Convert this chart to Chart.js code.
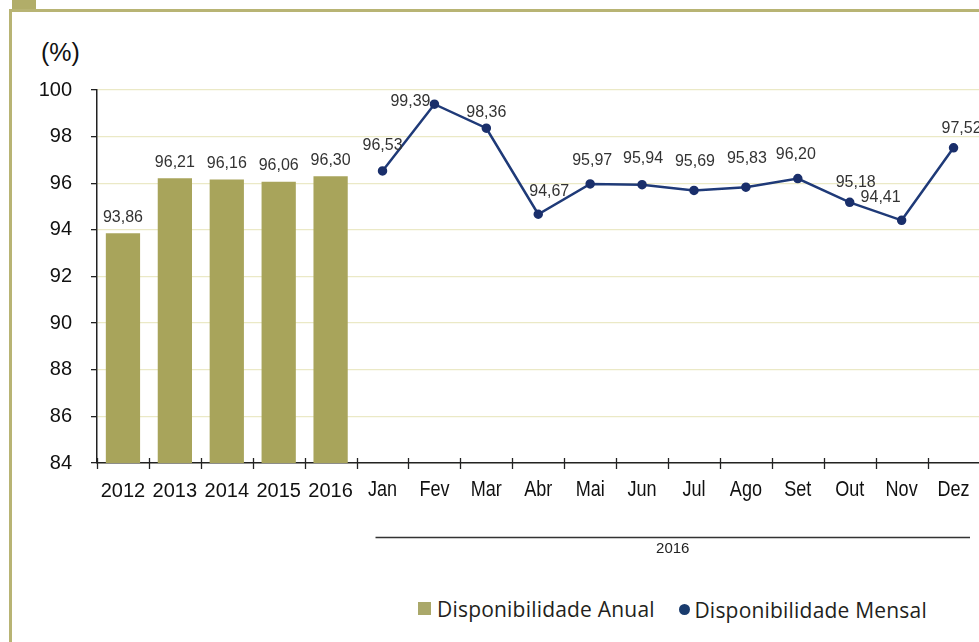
<!DOCTYPE html>
<html>
<head>
<meta charset="utf-8">
<script src="https://cdn.jsdelivr.net/npm/chart.js@4.4.0/dist/chart.umd.min.js"></script>
<style>
  html, body { margin: 0; padding: 0; background: #fff; }
  body { width: 979px; height: 642px; position: relative; overflow: hidden; }
  #frameTop { position: absolute; left: 9px; top: 9px; width: 970px; height: 3px; background: #b8b474; }
  #frameLeft { position: absolute; left: 9px; top: 9px; width: 3px; height: 633px; background: #b8b474; }
  #corner { position: absolute; left: 12px; top: 0; width: 24px; height: 9px; background: #b1ad69; }
  #unit { position: absolute; left: 41px; top: 38px; font: 25px 'Liberation Sans', Arial, sans-serif; color: #111; }
  #wrap { position: absolute; left: 0; top: 0; width: 986px; height: 570px; }
  #legend { position: absolute; top: 593px; left: 418px; font: 21px 'Open Sans', sans-serif; color: #231f20; white-space: nowrap; letter-spacing: 0.2px; }
  #legend span.item { display: inline-flex; align-items: center; }
  #legend .sq { width: 13px; height: 13px; background: #aaa86a; margin-right: 6px; }
  #legend .dot { width: 11px; height: 11px; border-radius: 50%; background: #1a3c6e; margin-right: 4px; margin-left: 19px; }
</style>
</head>
<body>
<div id="frameTop"></div>
<div id="frameLeft"></div>
<div id="corner"></div>
<div id="unit">(%)</div>
<div id="wrap"><canvas id="chart" width="986" height="570"></canvas></div>
<div id="legend">
  <span class="item"><span class="sq"></span>Disponibilidade Anual</span>
  <span class="item"><span class="dot"></span>Disponibilidade Mensal</span>
</div>
<script>
// categories
const years = ['2012', '2013', '2014', '2015', '2016'];
const months = ['Jan', 'Fev', 'Mar', 'Abr', 'Mai', 'Jun', 'Jul', 'Ago', 'Set', 'Out', 'Nov', 'Dez'];
const labels = years.concat(months);

// values
const anual = [93.86, 96.21, 96.16, 96.06, 96.30];
const mensal = [96.53, 99.39, 98.36, 94.67, 95.97, 95.94, 95.69, 95.83, 96.20, 95.18, 94.41, 97.52];

// label nudges for the monthly values (px)
const mensalDx = [0, -24, 0, 11, 2, 1, 1, 1, -2, 6, -21, 8];
const mensalDy = [-25, -3, -16, -23, -23, -26, -29, -29, -24, -20, -23, -19];

const barData = anual.concat(months.map(() => null));
const lineData = years.map(() => null).concat(mensal);

const fmt = v => v.toFixed(2).replace('.', ',');

const decor = {
  id: 'decor',
  afterDatasetsDraw(chart) {
    const c = chart.ctx;
    const x = chart.scales.x, area = chart.chartArea;
    const step = (area.right - area.left) / labels.length;
    c.save();
    // crossing tick marks on x axis
    c.strokeStyle = '#222';
    c.lineWidth = 1.3;
    for (let i = 0; i <= labels.length; i++) {
      const px = Math.round(area.left + i * step) + 0.5;
      c.beginPath();
      c.moveTo(px, area.bottom - 5);
      c.lineTo(px, area.bottom + 6);
      c.stroke();
    }
    // month names, narrow face
    c.font = '22px "Liberation Sans", Arial, sans-serif';
    c.fillStyle = '#111';
    c.textAlign = 'center';
    c.textBaseline = 'middle';
    months.forEach((m, k) => {
      const px = x.getPixelForValue(years.length + k);
      c.save();
      c.translate(px, 490);
      c.scale(0.82, 1);
      c.fillText(m, 0, 0);
      c.restore();
    });
    // value labels
    c.font = '16px "Liberation Sans", Arial, sans-serif';
    c.fillStyle = '#333';
    chart.getDatasetMeta(0).data.forEach((el, i) => {
      if (anual[i] == null) return;
      c.fillText(fmt(anual[i]), el.x, el.y - 16);
    });
    chart.getDatasetMeta(1).data.forEach((el, i) => {
      const k = i - years.length;
      if (k < 0) return;
      c.fillText(fmt(mensal[k]), el.x + mensalDx[k], el.y + mensalDy[k]);
    });
    // group line + year under months
    const x0 = x.getPixelForValue(years.length) - 7;
    const x1 = 970;
    c.strokeStyle = '#333';
    c.lineWidth = 1.5;
    c.beginPath();
    c.moveTo(x0, 537.5);
    c.lineTo(x1, 537.5);
    c.stroke();
    c.font = '15px "Liberation Sans", Arial, sans-serif';
    c.fillStyle = '#222';
    c.fillText('2016', (x0 + x1) / 2, 549);
    c.restore();
  }
};

new Chart(document.getElementById('chart'), {
  type: 'bar',
  data: {
    labels,
    datasets: [
      {
        type: 'bar',
        label: 'Disponibilidade Anual',
        data: barData,
        backgroundColor: '#a8a45b',
        barPercentage: 0.66,
        categoryPercentage: 1,
        order: 2
      },
      {
        type: 'line',
        label: 'Disponibilidade Mensal',
        data: lineData,
        borderColor: '#1f3a78',
        borderWidth: 2.5,
        pointBackgroundColor: '#1a2f6b',
        pointBorderColor: '#1a2f6b',
        pointRadius: 3.5,
        tension: 0,
        order: 1
      }
    ]
  },
  options: {
    responsive: false,
    animation: false,
    layout: { padding: { top: 90, left: 0, right: 0, bottom: 0 } },
    plugins: { legend: { display: false }, tooltip: { enabled: false } },
    scales: {
      x: {
        grid: { display: false },
        border: { display: true, color: '#222', width: 1.5 },
        ticks: {
          padding: 8,
          color: '#111',
          maxRotation: 0,
          autoSkip: false,
          callback: (v, i) => i < years.length ? labels[i] : '',
          font: { family: '"Liberation Sans", Arial, sans-serif', size: 20 }
        },
        afterFit: s => { s.height = 570 - 463; }
      },
      y: {
        min: 84,
        max: 100,
        ticks: {
          stepSize: 2,
          padding: 19,
          color: '#111',
          font: { family: '"Liberation Sans", Arial, sans-serif', size: 20 }
        },
        grid: { color: '#ebe9c6', lineWidth: 1.3, tickLength: 6, tickColor: '#222' },
        border: { display: true, color: '#222', width: 1.5 },
        afterFit: s => { s.width = 97; }
      }
    }
  },
  plugins: [decor]
});
</script>
</body>
</html>
